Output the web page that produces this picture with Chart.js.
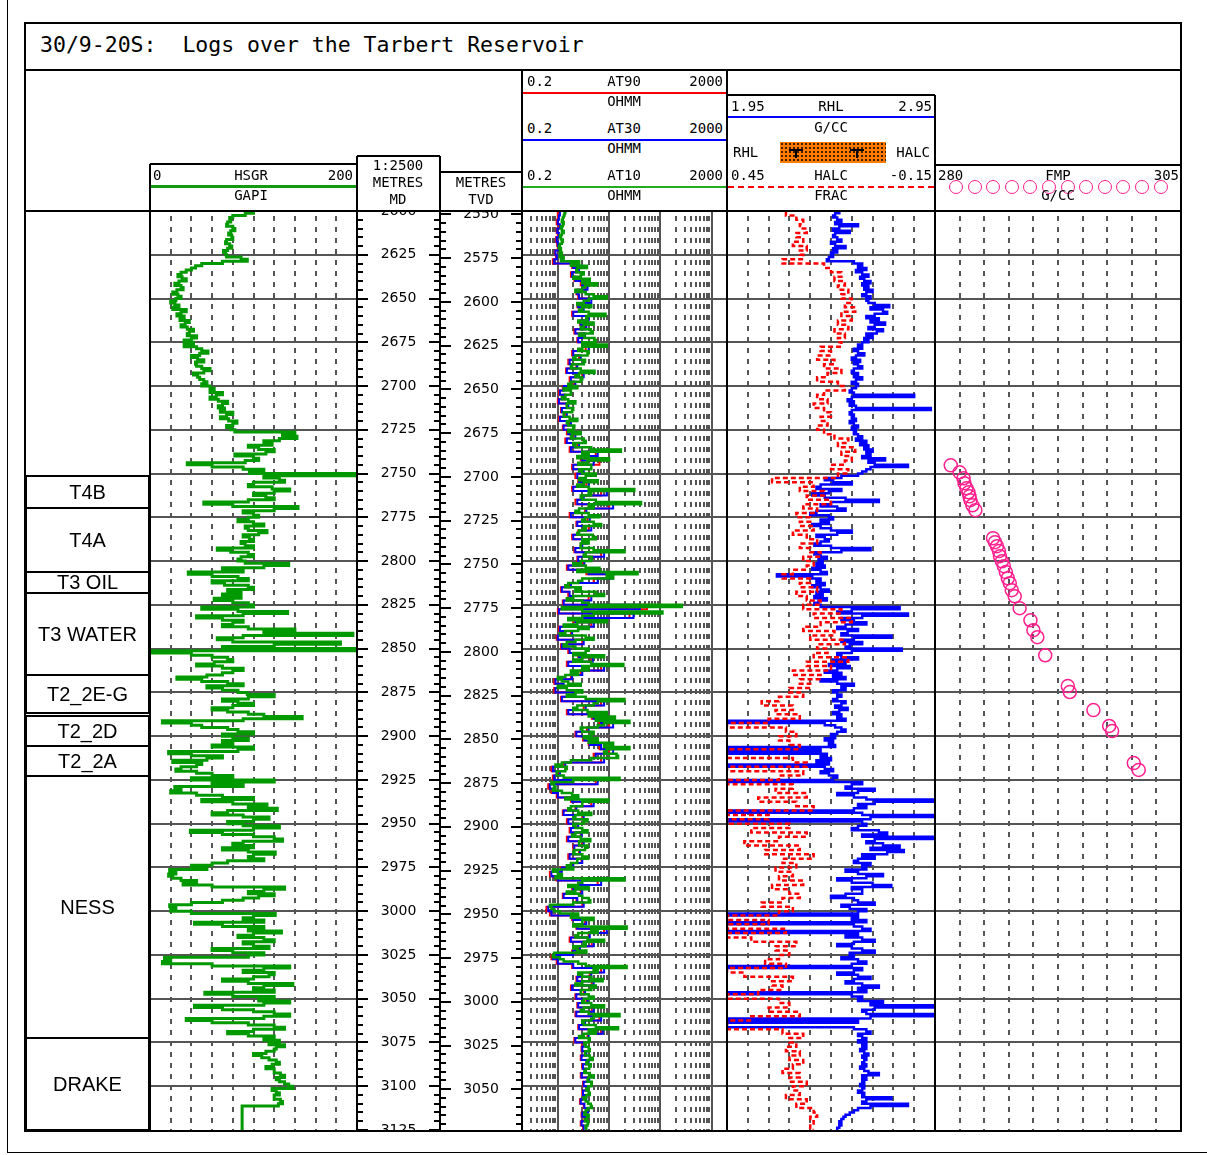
<!DOCTYPE html>
<html>
<head>
<meta charset="utf-8">
<title>30/9-20S: Logs over the Tarbert Reservoir</title>
<script src="https://cdn.jsdelivr.net/npm/chart.js@4.4.1/dist/chart.umd.min.js"></script>
<style>
  html, body { margin: 0; padding: 0; background: #fff; }
  #page { position: relative; width: 1207px; height: 1155px; overflow: hidden; background: #fff; }
  #page canvas { position: absolute; }
  .rule { position: absolute; background: #000; }
  .label { position: absolute; white-space: pre; color: #000; line-height: 1;
           font-family: "DejaVu Sans Mono", monospace; font-size: 14px; }
  .dot { position: absolute; box-sizing: border-box; border: 1.5px solid #ff1f8f; border-radius: 50%; }
</style>
</head>
<body>
<div id="page"></div>
<script>
// ---------------------------------------------------------------
// Log curves, regularly sampled in measured depth (LAS style STRT/STEP)
// ---------------------------------------------------------------
const LOG_TOP = 2600;     // m MD of first sample, all curves
const GR_STEP = 1.25;     // m, HSGR
const AT10_STEP = 1.25;   // m, AT10
const RES_STEP = 2.5;     // m, AT30 / AT90
const RHL_STEP = 1.25;    // m, RHL
const HALC_STEP = 2.5;    // m, HALC

// HSGR, GAPI (1.25 m)
const hsgr = [
  100,92,80,77,78,75,74,80,82,78,76,79,80,74,73,77,79,75,71,73,74,
  88,94,70,50,44,40,35,30,27,31,35,28,24,30,32,26,22,27,30,25,
  20,24,28,22,35,30,26,33,29,38,34,30,36,42,38,36,45,40,33,42,
  33,45,50,56,48,40,46,52,44,45,50,58,52,42,46,48,52,55,50,58,
  62,58,70,64,58,66,75,70,66,72,68,80,74,68,76,84,80,74,78,82,
  140,128,142,125,110,118,95,105,120,112,82,100,105,92,36,60,90,110,96,200,
  110,125,130,100,95,118,135,120,100,112,120,95,52,80,143,120,90,100,105,95,
  85,100,110,92,95,113,105,90,96,100,88,92,100,65,78,95,100,88,85,92,
  134,110,70,90,37,60,85,95,60,72,95,100,75,88,70,88,62,80,95,100,
  50,85,133,90,45,70,90,80,70,95,140,110,196,90,65,80,184,120,70,200,
  0,40,60,75,80,62,45,70,90,80,70,55,26,50,75,90,55,70,85,94,
  120,95,70,85,100,80,60,75,95,110,147,90,12,40,50,75,85,100,70,80,
  95,70,80,60,100,85,18,40,70,55,22,50,45,30,25,45,60,80,40,120,
  60,90,24,30,20,45,70,100,50,80,113,95,123,75,60,90,115,100,75,90,
  125,100,39,70,100,120,128,90,80,100,70,95,121,100,95,110,75,60,40,55,
  19,25,18,22,30,45,32,60,130,110,95,120,105,90,70,40,19,25,20,40,
  121,100,90,110,43,70,110,95,127,100,85,110,120,90,100,115,60,80,110,95,
  14,20,12,60,135,110,90,120,115,100,70,95,138,110,100,120,53,80,120,105,
  135,110,43,70,100,120,135,110,35,60,95,120,130,100,75,95,120,110,125,115,
  130,122,120,112,100,108,115,122,125,118,112,120,120,126,130,122,125,130,134,138,
  118,122,125,120,120,126,128,124,89,89,89,89,89,89,89,89,89,89,89,89
];

// AT10 resistivity, ohm.m (1.25 m)
const at10 = [
  1.4,1.35,1.3,1.25,1.2,1.3,1.25,1.15,1.2,1.3,1.2,1.1,1.15,1.25,1.2,1.1,1.05,1.15,1.1,1.2,1.1,
  1.3,1.15,2.6,1.8,3.7,2.4,2.3,3.2,2.8,2.0,4.2,3.0,5.8,3.4,3.0,2.2,3.5,5.0,9.0,4.0,
  3.2,2.4,4.5,3.0,2.6,4.0,8.5,3.6,3.8,2.5,5.0,3.2,2.8,4.4,4.8,2.6,3.3,5.2,5.5,3.0,
  9.0,3.0,2.5,4.0,3.8,2.2,2.0,3.4,3.2,1.9,1.8,2.8,5.2,2.6,2.2,3.0,2.8,1.8,1.6,2.4,
  1.3,1.8,1.8,1.4,1.2,1.6,2.2,1.5,1.5,2.0,1.9,1.3,1.3,1.7,2.4,1.5,1.6,2.1,2.0,1.6,
  2.8,1.9,1.8,3.2,3.5,2.0,2.2,4.5,17,3.0,4.0,2.4,10,3.8,2.5,4.5,4.5,2.6,3.0,5.5,
  3.5,2.6,6.0,3.2,2.4,4.0,31,4.0,4.5,2.8,3.0,5.5,42,4.0,5.0,2.6,2.2,4.0,6.5,3.4,
  3.0,5.0,7.0,3.2,3.5,2.6,2.4,4.8,5.5,3.0,4.0,2.8,2.8,5.0,20,3.5,3.2,4.6,4.5,2.8,
  2.0,3.5,6.5,2.4,36,9.0,12,3.0,2.5,1.6,1.4,2.8,2.2,5.5,8.0,2.0,1.5,3.0,4.0,263,
  1.2,3.0,110,5.0,3.0,1.6,9.0,2.4,1.3,4.0,2.5,1.4,1.1,3.5,5.0,2.2,1.5,1.3,2.2,4.0,
  3.5,2.0,8.0,3.0,2.0,4.5,19,3.0,4.0,1.8,2.5,1.4,1.0,1.2,1.6,2.8,1.0,1.5,3.0,2.2,
  1.5,3.5,20,6.0,5.0,2.4,2.0,3.8,9.0,4.0,13,5.5,25,8.0,6.0,2.8,3.0,5.0,4.5,3.2,
  6.0,4.0,12,8.0,25,9.0,8.0,14,15,4.5,1.8,1.2,0.9,1.5,1.4,0.95,0.95,1.3,16,2.0,
  0.75,0.85,0.9,0.8,1.2,1.9,2.5,1.4,9.7,3.0,3.0,1.8,1.6,2.5,4.5,2.2,2.0,3.8,3.2,2.0,
  2.2,3.0,3.8,2.2,1.9,2.8,4.3,2.6,2.6,3.8,3.4,2.1,2.0,3.0,3.9,2.4,2.4,1.8,1.5,2.0,
  0.8,1.0,1.2,0.9,20,3.0,2.5,1.6,4.0,2.2,1.5,2.6,3.0,4.0,4.3,2.0,0.7,0.75,0.85,1.1,
  2.5,1.8,5.0,3.0,3.0,2.0,22,4.5,6.0,2.5,2.2,3.8,8.0,3.2,3.5,2.0,2.4,3.6,0.85,0.8,
  1.1,1.3,2.5,3.5,22,5.0,6.0,2.5,3.0,4.5,7.5,3.0,2.2,5.5,4.5,2.8,2.8,4.0,5.0,3.2,
  3.0,4.5,8.0,3.2,2.8,4.0,16,5.0,4.5,3.0,3.2,5.5,15,4.0,5.5,3.2,2.6,4.2,4.0,3.3,
  3.5,4.0,4.2,3.4,3.4,4.2,4.8,3.8,3.6,4.4,4.1,3.5,3.3,4.2,5.0,3.9,3.8,4.6,4.5,3.9,
  3.6,4.0,4.2,3.6,3.2,3.5,3.9,4.4,4.6,3.8,3.5,3.3,4.0,3.7,3.4,3.9,3.8,3.5,3.6,3.6
];

// AT30 resistivity, ohm.m (2.5 m)
const at30 = [
  1.1,1.05,1.0,1.1,0.98,1.05,0.95,1.0,1.05,0.9,0.95,
  0.85,2.0,2.6,1.9,2.2,3.0,3.8,2.4,2.6,4.5,
  2.5,3.2,2.0,4.0,2.8,3.6,2.2,3.4,2.5,3.6,
  4.0,2.0,2.8,1.7,2.4,1.5,3.2,1.8,2.2,1.3,
  1.1,1.4,1.05,1.6,1.2,1.5,1.1,1.8,1.3,1.6,
  2.2,1.5,2.6,1.8,6.0,3.0,5.0,2.0,3.2,2.4,
  2.6,4.0,2.0,9.0,3.2,2.4,12,3.6,1.8,4.2,
  2.4,4.5,2.6,2.0,3.8,3.0,2.2,8.0,2.5,3.3,
  1.6,4.0,12,6.0,1.8,1.2,1.7,4.5,1.3,40,
  1.05,30,2.2,5.0,1.1,1.9,1.0,3.2,1.2,1.7,
  2.6,4.8,1.6,8.0,3.0,1.9,0.9,1.3,0.9,2.2,
  1.2,8.0,3.5,1.6,5.0,7.0,12,4.0,2.3,3.3,
  4.2,7.0,12,5.5,8.0,1.4,0.8,1.1,0.85,6.0,
  0.7,0.8,1.0,1.9,5.0,2.3,1.3,3.2,1.6,2.5,
  1.8,2.9,1.6,3.2,2.1,2.7,1.7,3.0,2.0,1.2,
  0.75,1.0,7.0,2.0,3.0,1.3,2.4,3.2,0.65,0.75,
  2.0,3.6,2.4,9.0,4.2,1.8,5.0,2.7,2.0,0.8,
  1.0,2.0,8.0,4.5,2.4,5.0,1.9,3.4,2.3,3.8,
  2.5,5.0,2.3,7.0,3.4,2.6,7.5,4.0,2.2,3.2,
  3.0,3.6,2.9,4.0,3.1,3.5,2.9,4.1,3.2,3.8,
  3.1,3.6,2.8,3.3,3.9,3.0,3.4,2.9,3.2,3.1
];

// AT90 resistivity, ohm.m (2.5 m)
const at90 = [
  1.0,1.0,0.95,1.05,0.95,1.0,0.92,0.97,1.0,0.88,0.92,
  0.8,1.9,2.4,1.8,2.1,2.8,3.5,2.3,2.5,4.0,
  2.4,3.0,1.9,3.6,2.7,3.4,2.1,3.2,2.4,3.3,
  3.5,1.9,2.6,1.6,2.3,1.45,3.0,1.7,2.1,1.25,
  1.05,1.35,1.0,1.5,1.15,1.45,1.05,1.7,1.25,1.5,
  2.0,1.4,2.4,1.7,5.5,2.8,6.5,1.9,3.0,2.2,
  2.5,3.6,1.9,7.0,3.0,2.2,10,3.4,1.7,3.8,
  2.3,4.0,2.5,1.9,3.5,2.8,2.1,7.0,2.4,3.1,
  1.5,3.6,10,5.0,1.7,1.15,1.6,4.0,1.25,55,
  1.0,25,2.0,4.5,1.05,1.8,0.95,3.0,1.15,1.6,
  2.5,4.4,1.5,7.0,2.8,1.8,0.85,1.25,0.85,2.1,
  1.15,7.0,3.2,1.5,4.6,6.5,10,3.7,2.2,3.1,
  4.0,6.5,10,5.0,7.0,1.3,0.75,1.05,0.8,5.5,
  0.65,0.75,0.95,1.8,4.5,2.2,1.25,3.0,1.5,2.4,
  1.7,2.8,1.5,3.0,2.0,2.6,1.6,2.9,1.9,1.15,
  0.7,0.95,6.0,1.9,2.8,1.25,2.3,3.0,0.6,0.7,
  1.9,3.4,2.3,8.0,4.0,1.7,4.6,2.6,1.9,0.75,
  0.95,1.9,7.0,4.2,2.3,4.6,1.8,3.2,2.2,3.6,
  2.4,4.6,2.2,6.5,3.2,2.5,7.0,3.8,2.1,3.0,
  2.9,3.5,2.8,3.8,3.0,3.4,2.8,3.9,3.1,3.6,
  3.0,3.5,2.7,3.2,3.7,2.9,3.3,2.8,3.1,3.0
];

// RHL bulk density, g/cc (1.25 m)
const rhl = [
  2.49,2.47,2.46,2.48,2.50,2.47,2.58,2.49,2.46,2.54,2.47,2.46,2.48,2.50,2.45,2.47,2.52,2.46,2.48,2.45,2.46,
  2.44,2.43,2.56,2.60,2.58,2.62,2.57,2.60,2.63,2.59,2.61,2.64,2.60,2.63,2.61,2.65,2.62,2.60,2.64,2.62,
  2.63,2.66,2.73,2.64,2.70,2.72,2.66,2.62,2.68,2.64,2.71,2.66,2.63,2.70,2.67,2.62,2.65,2.61,2.63,2.60,
  2.58,2.60,2.56,2.58,2.61,2.57,2.55,2.59,2.56,2.58,2.60,2.56,2.55,2.58,2.56,2.60,2.57,2.55,2.58,2.57,
  2.55,2.54,2.56,2.85,2.55,2.53,2.56,2.54,2.57,2.93,2.55,2.54,2.56,2.55,2.57,2.54,2.56,2.58,2.55,2.57,
  2.56,2.58,2.60,2.57,2.62,2.59,2.63,2.61,2.65,2.62,2.64,2.60,2.71,2.63,2.66,2.82,2.64,2.62,2.60,2.58,
  2.50,2.42,2.46,2.55,2.40,2.38,2.50,2.44,2.36,2.42,2.52,2.68,2.45,2.40,2.48,2.52,2.38,2.35,2.44,2.46,
  2.40,2.44,2.36,2.40,2.45,2.55,2.48,2.38,2.42,2.44,2.40,2.37,2.45,2.64,2.50,2.37,2.40,2.43,2.39,2.41,
  2.38,2.42,2.36,2.40,2.43,2.19,2.36,2.40,2.38,2.42,2.36,2.40,2.44,2.38,2.41,2.37,2.43,2.39,2.37,2.40,
  2.78,2.55,2.48,2.82,2.60,2.50,2.56,2.62,2.52,2.48,2.58,2.53,2.50,2.74,2.56,2.50,2.60,2.54,2.52,2.79,
  2.55,2.48,2.50,2.58,2.46,2.52,2.44,2.54,2.48,2.42,2.50,2.46,2.52,2.40,2.48,2.56,2.50,2.52,2.46,2.48,
  2.50,2.48,2.46,2.52,2.50,2.47,2.53,2.49,2.46,2.50,2.48,2.52,1.95,2.42,2.47,2.50,2.52,2.48,2.45,2.47,
  2.42,2.46,2.44,2.47,1.95,2.40,1.95,2.43,2.40,2.45,2.38,2.44,1.95,2.42,2.46,2.40,2.44,2.48,2.46,1.95,
  2.60,2.55,2.52,2.66,2.58,2.48,2.56,2.62,2.95,2.66,2.58,2.62,2.56,1.95,2.60,2.95,2.64,1.95,2.60,2.62,
  2.58,2.55,2.68,2.72,2.60,2.95,2.66,2.62,2.70,2.78,2.64,2.80,2.72,2.60,2.66,2.58,2.56,2.64,2.60,2.62,
  2.52,2.58,2.70,2.62,2.48,2.55,2.65,2.74,2.55,2.60,2.60,2.52,2.45,2.56,2.58,2.66,2.50,2.54,2.62,2.58,
  1.95,2.58,2.55,2.62,1.95,2.56,2.60,2.64,1.95,2.58,2.52,2.60,2.66,2.56,2.48,2.55,2.60,2.66,2.54,2.56,
  2.50,2.58,2.62,2.55,1.95,2.60,2.56,2.48,2.58,2.64,2.56,2.52,2.60,2.68,2.58,2.62,1.95,2.55,2.60,2.58,
  2.70,2.64,2.95,2.66,2.60,2.62,2.95,2.64,1.95,2.58,1.95,1.95,2.56,2.62,2.64,2.58,2.60,2.62,2.58,2.62,
  2.60,2.62,2.59,2.61,2.63,2.60,2.62,2.61,2.60,2.62,2.59,2.61,2.63,2.68,2.60,2.62,2.60,2.61,2.59,2.61,
  2.60,2.58,2.61,2.60,2.74,2.62,2.60,2.82,2.64,2.58,2.56,2.54,2.52,2.51,2.50,2.49,2.50,2.49,2.48,2.48
];

// HALC porosity, fraction (2.5 m)
const halc = [
  0.28,0.25,0.23,0.24,0.22,0.25,0.23,0.26,0.22,0.24,0.23,
  0.29,0.17,0.15,0.12,0.14,0.11,0.13,0.10,0.12,0.09,
  0.11,0.08,0.12,0.09,0.13,0.10,0.14,0.11,0.13,0.12,
  0.18,0.15,0.19,0.14,0.17,0.12,0.16,0.19,0.13,0.11,
  0.17,0.19,0.16,0.20,0.17,0.15,0.18,0.16,0.19,0.17,
  0.14,0.10,0.13,0.08,0.12,0.09,0.11,0.15,0.10,0.13,
  0.32,0.20,0.24,0.17,0.22,0.15,0.23,0.19,0.25,0.21,
  0.24,0.20,0.26,0.22,0.19,0.24,0.21,0.18,0.23,0.20,
  0.22,0.26,0.29,0.21,0.24,0.19,0.25,0.22,0.18,0.23,
  0.12,0.20,0.09,0.18,0.23,0.14,0.21,0.11,0.19,0.16,
  0.20,0.10,0.22,0.15,0.26,0.18,0.24,0.21,0.27,0.23,
  0.30,0.35,0.26,0.31,0.24,0.33,0.45,0.28,0.25,0.30,
  0.27,0.24,0.45,0.45,0.26,0.22,0.45,0.23,0.30,0.45,
  0.26,0.31,0.22,0.36,0.25,0.20,0.45,0.33,0.45,0.27,
  0.38,0.22,0.30,0.40,0.24,0.34,0.20,0.29,0.25,0.31,
  0.26,0.30,0.23,0.32,0.27,0.24,0.29,0.35,0.26,0.30,
  0.45,0.33,0.45,0.28,0.45,0.38,0.25,0.31,0.27,0.30,
  0.34,0.28,0.45,0.40,0.26,0.32,0.29,0.36,0.45,0.30,
  0.27,0.33,0.24,0.38,0.45,0.45,0.29,0.23,0.27,0.25,
  0.28,0.24,0.27,0.23,0.26,0.29,0.24,0.27,0.22,0.26,
  0.24,0.28,0.22,0.25,0.20,0.19,0.21,0.20,0.21,0.20
];

// FMP formation pressure points
const fmpDepth = [2745.3,2749.3,2752.7,2755.5,2758.4,2760.7,2763.0,2765.2,2768.1,2770.9,
  2786.9,2789.2,2791.5,2794.3,2797.2,2800.1,2802.9,2806.3,2809.8,2812.6,
  2816.6,2820.1,2826.9,2833.8,2839.5,2843.5,2853.8,2871.4,2874.8,2885.1,
  2894.2,2897.1,2915.4,2919.3];
const fmpValue = [281.6,282.5,282.9,283.0,283.2,283.4,283.5,283.6,283.8,284.1,
  285.9,286.1,286.3,286.5,286.6,286.8,287.0,287.2,287.4,287.6,
  287.8,288.1,288.6,289.7,290.0,290.4,291.2,293.5,293.7,296.1,
  297.7,298.0,300.2,300.7];

// Zonation, m MD
const zoneNames = ['T4B','T4A','T3 OIL','T3 WATER','T2_2E-G','T2_2D','T2_2A','NESS','DRAKE'];
const zoneTop   = [2751.5,2769.8,2806.3,2818.3,2865.1,2888.6,2905.7,2922.8,3072.3];
const zoneBase  = [2769.8,2806.3,2818.3,2865.1,2886.8,2905.7,2922.8,3072.3,3125.0];

// Depth scales
const MD_RANGE  = [2600, 3125];
const TVD_RANGE = [2548, 3073.3];
const mdLabels  = [2600,2625,2650,2675,2700,2725,2750,2775,2800,2825,2850,2875,2900,2925,2950,2975,3000,3025,3050,3075,3100,3125];
const tvdLabels = [2550,2575,2600,2625,2650,2675,2700,2725,2750,2775,2800,2825,2850,2875,2900,2925,2950,2975,3000,3025,3050];
const depthLines = [2625,2650,2675,2700,2725,2750,2775,2800,2825,2850,2875,2900,2925,2950,2975,3000,3025,3050,3075,3100];

// Track grid ticks
const grTicks  = [20,40,60,80,100,120,140,160,180];
const resMajor = [1,10,100,1000];
const denTicks = [2.05,2.15,2.25,2.35,2.45,2.55,2.65,2.75,2.85];
const fmpTicks = [282.5,285,287.5,290,292.5,295,297.5,300,302.5];

// ---------------------------------------------------------------
// Page layout helpers
// ---------------------------------------------------------------
const page = document.getElementById('page');
const DATA_TOP = 211, DATA_H = 919;
const X = { zone: 25, gr: 150, md: 357, tvd: 440, res: 522, den: 727, fmp: 935, end: 1181 };
const GRID = '#555';
const GREEN = '#009900', PINK = '#ff1f8f';

function rule(x, y, w, h, color) {
  const d = document.createElement('div');
  d.className = 'rule';
  Object.assign(d.style, { left: x + 'px', top: y + 'px', width: w + 'px', height: h + 'px' });
  if (color) d.style.background = color;
  page.appendChild(d);
  return d;
}
const hRule = (x1, x2, y, t = 2, c) => rule(x1, y - t / 2, x2 - x1, t, c);
const vRule = (x, y1, y2, t = 2, c) => rule(x - t / 2, y1, t, y2 - y1, c);

function label(text, x, y, align = 'center', size = 14, family) {
  const d = document.createElement('div');
  d.className = 'label';
  d.textContent = text;
  d.style.fontSize = size + 'px';
  if (family) d.style.fontFamily = family;
  d.style.left = x + 'px';
  d.style.top = y + 'px';
  const tx = align === 'center' ? '-50%' : align === 'right' ? '-100%' : '0';
  d.style.transform = `translate(${tx}, -50%)`;
  page.appendChild(d);
  return d;
}

function trackCanvas(x0, x1) {
  const c = document.createElement('canvas');
  const w = x1 - x0;
  c.width = w; c.height = DATA_H;
  Object.assign(c.style, { left: x0 + 'px', top: DATA_TOP + 'px', width: w + 'px', height: DATA_H + 'px' });
  page.appendChild(c);
  return c;
}

// ---------------------------------------------------------------
// Chart.js plugins: track grid, depth ruler, zone boxes
// ---------------------------------------------------------------
const trackGrid = {
  id: 'trackGrid',
  beforeDatasetsDraw(chart, args, opts) {
    if (!opts || !opts.on) return;
    const { ctx, chartArea: a } = chart;
    const xs = chart.scales.x, ys = chart.scales.y;
    ctx.save();
    ctx.lineWidth = 2;
    ctx.strokeStyle = GRID;
    const vline = v => {
      const px = Math.round(xs.getPixelForValue(v));
      ctx.beginPath(); ctx.moveTo(px, a.top); ctx.lineTo(px, a.bottom); ctx.stroke();
    };
    ctx.setLineDash([5, 6]);
    ctx.lineDashOffset = -5;
    (opts.dashed || []).forEach(vline);
    ctx.setLineDash([]);
    (opts.solid || []).forEach(vline);
    (opts.depths || []).forEach(d => {
      const py = Math.round(ys.getPixelForValue(d));
      ctx.beginPath(); ctx.moveTo(a.left, py); ctx.lineTo(a.right, py); ctx.stroke();
    });
    ctx.restore();
  }
};

const depthRuler = {
  id: 'depthRuler',
  afterDraw(chart, args, opts) {
    if (!opts || !opts.labels) return;
    const { ctx, chartArea: a } = chart;
    const ys = chart.scales.y;
    ctx.save();
    ctx.strokeStyle = '#000';
    ctx.lineWidth = 2;
    const first = Math.ceil(ys.min / 5) * 5;
    for (let d = first; d <= ys.max; d += 5) {
      const py = Math.round(ys.getPixelForValue(d));
      const len = d % 25 === 0 ? 11 : 6;
      ctx.beginPath();
      ctx.moveTo(a.left, py); ctx.lineTo(a.left + len, py);
      ctx.moveTo(a.right - len, py); ctx.lineTo(a.right, py);
      ctx.stroke();
    }
    ctx.fillStyle = '#000';
    ctx.font = '14px "DejaVu Sans", sans-serif';
    ctx.textAlign = 'center';
    ctx.textBaseline = 'middle';
    opts.labels.forEach(d => ctx.fillText(String(d), (a.left + a.right) / 2, ys.getPixelForValue(d)));
    ctx.restore();
  }
};

const zoneBoxes = {
  id: 'zoneBoxes',
  afterDraw(chart, args, opts) {
    if (!opts || !opts.names) return;
    const { ctx, chartArea: a } = chart;
    const ys = chart.scales.y;
    ctx.save();
    ctx.strokeStyle = '#000';
    ctx.lineWidth = 2;
    ctx.fillStyle = '#000';
    ctx.font = '20px "Liberation Sans", Arial, sans-serif';
    ctx.textAlign = 'center';
    ctx.textBaseline = 'middle';
    opts.names.forEach((n, i) => {
      const y0 = Math.round(ys.getPixelForValue(opts.top[i]));
      const y1 = Math.round(ys.getPixelForValue(opts.base[i]));
      ctx.strokeRect(a.left + 1, y0, a.right - a.left - 2, y1 - y0);
      ctx.fillText(n, (a.left + a.right) / 2, (y0 + y1) / 2 + 1);
    });
    ctx.restore();
  }
};

Chart.register(trackGrid, depthRuler, zoneBoxes);

function opts(scales, plugins) {
  return {
    responsive: false, maintainAspectRatio: false, animation: false, devicePixelRatio: 1, events: [],
    layout: { padding: 0, autoPadding: false },
    scales,
    plugins: Object.assign({ legend: { display: false }, tooltip: { enabled: false } }, plugins || {})
  };
}
const yMD  = { type: 'linear', min: MD_RANGE[0],  max: MD_RANGE[1],  reverse: true, display: false, bounds: 'data' };
const yTVD = { type: 'linear', min: TVD_RANGE[0], max: TVD_RANGE[1], reverse: true, display: false, bounds: 'data' };
const lin = (min, max, extra) => Object.assign({ type: 'linear', min, max, display: false, bounds: 'data' }, extra || {});

// A log curve drawn as a blocky trace: each sample holds its value down to the next one
function curve(values, step, axis, color, width, dash) {
  return {
    data: values.map((v, i) => ({ x: v, y: LOG_TOP + i * step })),
    xAxisID: axis, yAxisID: 'y',
    showLine: true, stepped: 'after', tension: 0, fill: false,
    borderColor: color, borderWidth: width, borderDash: dash || [],
    pointRadius: 0, pointHoverRadius: 0
  };
}

// ---------------------------------------------------------------
// Tracks
// ---------------------------------------------------------------
new Chart(trackCanvas(X.zone, X.gr), {
  type: 'scatter', data: { datasets: [] },
  options: opts({ x: lin(0, 1), y: yMD }, { zoneBoxes: { names: zoneNames, top: zoneTop, base: zoneBase } })
});

new Chart(trackCanvas(X.gr, X.md), {
  type: 'scatter',
  data: { datasets: [curve(hsgr, GR_STEP, 'x', GREEN, 3)] },
  options: opts({ x: lin(0, 200), y: yMD }, { trackGrid: { on: true, dashed: grTicks, depths: depthLines } })
});

new Chart(trackCanvas(X.md, X.tvd), {
  type: 'scatter', data: { datasets: [] },
  options: opts({ x: lin(0, 1), y: yMD }, { depthRuler: { labels: mdLabels } })
});

new Chart(trackCanvas(X.tvd, X.res), {
  type: 'scatter', data: { datasets: [] },
  options: opts({ x: lin(0, 1), y: yTVD }, { depthRuler: { labels: tvdLabels } })
});

const resMinor = [];
[0.1, 1, 10, 100].forEach(dec => {
  for (let m = 2; m <= 9; m++) { const v = dec * m; if (v > 0.2 && v < 2000) resMinor.push(v); }
});
new Chart(trackCanvas(X.res, X.den), {
  type: 'scatter',
  data: { datasets: [
    curve(at10, AT10_STEP, 'x', '#009900', 2.5),
    curve(at30, RES_STEP, 'x', '#0000ff', 2),
    curve(at90, RES_STEP, 'x', '#ff0000', 2)
  ] },
  options: opts({ x: { type: 'logarithmic', min: 0.2, max: 2000, display: false, bounds: 'data' }, y: yMD },
    { trackGrid: { on: true, dashed: resMinor, solid: resMajor, depths: depthLines } })
});

new Chart(trackCanvas(X.den, X.fmp), {
  type: 'scatter',
  data: { datasets: [
    curve(halc, HALC_STEP, 'xh', '#ff0000', 2.5, [5, 3]),
    curve(rhl, RHL_STEP, 'x', '#0000ff', 2.5)
  ] },
  options: opts({ x: lin(1.95, 2.95), xh: lin(-0.15, 0.45, { axis: 'x', reverse: true }), y: yMD },
    { trackGrid: { on: true, dashed: denTicks, depths: depthLines } })
});

new Chart(trackCanvas(X.fmp, X.end), {
  type: 'scatter',
  data: { datasets: [{
    data: fmpDepth.map((d, i) => ({ x: fmpValue[i], y: d })),
    xAxisID: 'x', yAxisID: 'y', showLine: false,
    pointStyle: 'circle', pointRadius: 6.5, pointBorderWidth: 1.5,
    pointBorderColor: PINK, pointBackgroundColor: 'rgba(0,0,0,0)'
  }] },
  options: opts({ x: lin(280, 305), y: yMD }, { trackGrid: { on: true, dashed: fmpTicks, depths: depthLines } })
});

// ---------------------------------------------------------------
// Frame and header
// ---------------------------------------------------------------
vRule(7, 0, 1153, 1);
hRule(7, 1207, 1152, 1);

hRule(24, 1182, 23);
hRule(24, 1182, 1131);
vRule(25, 22, 1132);
vRule(1181, 22, 1132);
hRule(25, 1181, 70);
hRule(25, 1181, DATA_TOP);
[X.gr, X.md, X.tvd, X.res, X.den, X.fmp].forEach(x => vRule(x, DATA_TOP, 1131));

// header boxes
vRule(X.res, 70, DATA_TOP); vRule(X.den, 70, DATA_TOP);
hRule(X.den, X.fmp, 95); vRule(X.fmp, 95, DATA_TOP);
hRule(X.fmp, X.end, 165);
hRule(X.gr, X.md, 164); vRule(X.gr, 164, DATA_TOP); vRule(X.md, 156, DATA_TOP);
hRule(X.md, X.tvd, 156); vRule(X.tvd, 156, DATA_TOP);
hRule(X.tvd, X.res, 172);

label('30/9-20S:  Logs over the Tarbert Reservoir', 40, 45, 'left', 21.5);

// resistivity header
[['AT90', 81, 93, '#ff0000'], ['AT30', 128, 140, '#0000ff'], ['AT10', 175, 187, '#22aa22']].forEach(([n, ty, ly, c]) => {
  label('0.2', 527, ty, 'left');
  label(n, 624, ty);
  label('2000', 723, ty, 'right');
  hRule(X.res + 1, X.den - 1, ly, 2, c);
  label('OHMM', 624, ly + 8);
});

// density header
label('1.95', 731, 106, 'left'); label('RHL', 831, 106); label('2.95', 932, 106, 'right');
hRule(X.den + 1, X.fmp - 1, 117, 2, '#0000ff');
label('G/CC', 831, 127);
label('RHL', 733, 152, 'left'); label('HALC', 930, 152, 'right');
const swatch = rule(780, 142, 106, 21, '#ff7a00');
swatch.style.backgroundImage = 'radial-gradient(circle, #000 0.6px, transparent 1px)';
swatch.style.backgroundSize = '4px 4px';
[796, 857].forEach(cx => { rule(cx - 7, 149, 14, 2); rule(cx - 1, 149, 2, 9); });
label('0.45', 731, 175, 'left'); label('HALC', 831, 175); label('-0.15', 932, 175, 'right');
const frac = rule(X.den + 1, 186, X.fmp - X.den - 2, 2, 'transparent');
frac.style.background = 'repeating-linear-gradient(to right, #ff0000 0 6px, transparent 6px 10px)';
label('FRAC', 831, 195);

// FMP header
label('280', 938, 175, 'left'); label('FMP', 1058, 175); label('305', 1179, 175, 'right');
for (let k = 0; k < 12; k++) {
  const cx = 956 + k * 18.6, d = document.createElement('div');
  d.className = 'dot';
  Object.assign(d.style, { left: (cx - 7) + 'px', top: (187 - 7) + 'px', width: '14px', height: '14px' });
  page.appendChild(d);
}
label('G/CC', 1058, 195);

// gamma ray header
label('0', 153, 175, 'left'); label('HSGR', 251, 175); label('200', 353, 175, 'right');
hRule(X.gr + 1, X.md - 1, 186, 3, '#119911');
label('GAPI', 251, 195);

// depth headers
label('1:2500', 398, 165); label('METRES', 398, 182); label('MD', 398, 199);
label('METRES', 481, 182); label('TVD', 481, 199);
</script>
</body>
</html>
